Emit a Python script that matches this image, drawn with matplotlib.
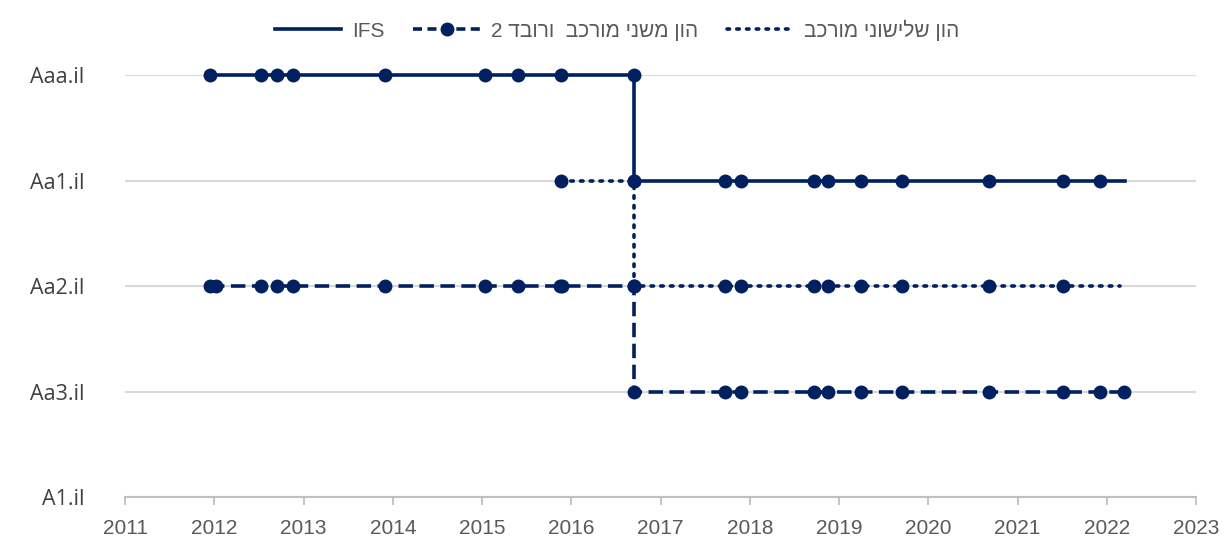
import matplotlib
matplotlib.use("Agg")
import matplotlib.pyplot as plt
from matplotlib.lines import Line2D

NAVY = "#002060"

rating_labels = ["A1.il", "Aa3.il", "Aa2.il", "Aa1.il", "Aaa.il"]
years = list(range(2011, 2024))

# IFS (solid)
ifs_x = [2011.95, 2012.52, 2012.70, 2012.88, 2013.91, 2015.03, 2015.40, 2015.89,
         2016.70, 2016.70, 2017.72, 2017.90, 2018.72, 2018.88, 2019.25, 2019.71,
         2020.68, 2021.51, 2021.92, 2022.20]
ifs_y = [4, 4, 4, 4, 4, 4, 4, 4,
         4, 3, 3, 3, 3, 3, 3, 3,
         3, 3, 3, 3]

# subordinated capital / tier 2 (dashed)
t2_x = [2011.95, 2012.02, 2012.52, 2012.70, 2012.88, 2013.91, 2015.03, 2015.40,
        2015.87, 2015.90, 2016.70, 2016.70, 2017.72, 2017.90, 2018.72, 2018.88,
        2019.25, 2019.71, 2020.68, 2021.51, 2021.92, 2022.19]
t2_y = [2, 2, 2, 2, 2, 2, 2, 2,
        2, 2, 2, 1, 1, 1, 1, 1,
        1, 1, 1, 1, 1, 1]

# tertiary capital (dotted)
t3_x = [2015.89, 2016.70, 2016.70, 2017.72, 2017.90, 2018.72, 2018.88, 2019.25,
        2019.71, 2020.68, 2021.51, 2022.15]
t3_y = [3, 3, 2, 2, 2, 2, 2, 2,
        2, 2, 2, 2]

legend_labels = ["IFS", "הון משני מורכב  ורובד 2", "הון שלישוני מורכב"]


def visual(s):
    # matplotlib has no bidi support: lay Hebrew out right to left by hand
    return s[::-1] if any("\u0590" <= c <= "\u05ff" for c in s) else s


fig = plt.figure(figsize=(12.24, 5.38), dpi=100)
ax = fig.add_axes([125 / 1224, 41 / 538, 1071 / 1224, 422 / 538])

lw = 2.6
ms = 9
dashed = (0, (4, 1.8))
dotted = (0, (0.7, 2.0))
ax.plot(ifs_x, ifs_y, color=NAVY, lw=lw, ls="-", marker="o", ms=ms,
        markevery=slice(0, -1), clip_on=False, zorder=3)
ax.plot(t2_x, t2_y, color=NAVY, lw=lw, ls=dashed, marker="o", ms=ms,
        clip_on=False, zorder=3)
ax.plot(t3_x, t3_y, color=NAVY, lw=lw, ls=dotted, marker="o", ms=ms,
        dash_capstyle="round", markevery=slice(0, -1), clip_on=False, zorder=3)

ax.set_xlim(2011, 2023)
ax.set_ylim(0, 4)
ax.set_xticks(years)
ax.set_xticklabels([str(y) for y in years], color="#595959",
                   family=["Liberation Sans", "DejaVu Sans"], fontsize=15)
ax.set_yticks(range(len(rating_labels)))
ax.set_yticklabels(rating_labels, color="#404040", family=["Open Sans", "DejaVu Sans"],
                   fontsize=15.5)
ax.tick_params(axis="y", length=0, pad=29)
ax.tick_params(axis="x", direction="out", length=6, width=1.3, color="#bfbfbf", pad=10)
ax.yaxis.grid(True, color="#d9d9d9", lw=1.5, zorder=0)
ax.set_axisbelow(True)
for side in ["top", "right", "left"]:
    ax.spines[side].set_visible(False)
ax.spines["bottom"].set_color("#bfbfbf")
ax.spines["bottom"].set_linewidth(1.5)

handles = [
    Line2D([], [], color=NAVY, lw=lw, ls="-"),
    Line2D([], [], color=NAVY, lw=lw, ls=(0, (2.5, 1.5)), marker="o", ms=ms),
    Line2D([], [], color=NAVY, lw=lw, ls=dotted, dash_capstyle="round"),
]
leg = fig.legend(handles, [visual(s) for s in legend_labels], loc="center",
                 bbox_to_anchor=(0.504, 0.944), ncol=3, frameon=False,
                 handlelength=3.2, handletextpad=0.5, columnspacing=1.4, numpoints=1,
                 prop={"family": ["Liberation Sans", "DejaVu Sans"], "size": 15})
for t in leg.get_texts():
    t.set_color("#595959")

fig.savefig("out.png", dpi=100)
